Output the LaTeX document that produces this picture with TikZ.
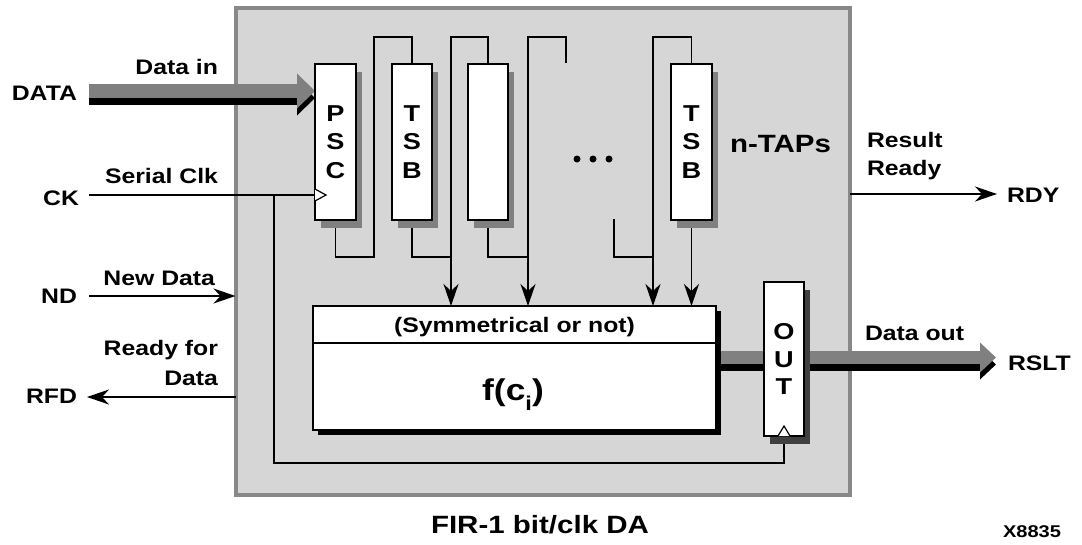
\documentclass[tikz,border=0pt]{standalone}
\usepackage{fontspec}
\setmainfont{Liberation Sans}[FakeStretch=1.18]
\usetikzlibrary{arrows.meta,shadows}
\definecolor{panelfill}{HTML}{D6D6D6}
\definecolor{panelline}{HTML}{888888}
\definecolor{busgray}{HTML}{808080}
\definecolor{shadowgray}{HTML}{808080}
\definecolor{darkshadow}{HTML}{404040}
\pgfdeclarelayer{back}
\pgfdeclarelayer{mid}
\pgfsetlayers{back,mid,main}
\tikzset{
  lbl/.style={font=\fontsize{21}{28}\selectfont\bfseries, inner sep=0pt, outer sep=0pt, text=black},
  reg/.style={draw=black, line width=2.4pt, fill=white, minimum width=41pt, minimum height=156pt,
    inner sep=0pt, outer sep=0pt, align=center, font=\fontsize{23}{28.5}\selectfont\bfseries,
    drop shadow={shadow xshift=6pt, shadow yshift=-8pt, fill=#1, opacity=1}},
  reg/.default=shadowgray,
  wire/.style={line width=1.8pt, black},
  sig/.style={line width=1.8pt, black, -{Stealth[length=22pt,width=15pt,inset=7pt]}},
  clkmark/.style={line width=1.2pt, black, fill=white, line join=miter},
  busin/.style={line width=14pt, busgray, -{Triangle[length=18pt,width=34pt]}},
  busout/.style={line width=13pt, busgray, -{Triangle[length=16pt,width=29pt]}},
}
\begin{document}
\begin{tikzpicture}[x=1pt,y=-1pt]
\useasboundingbox (0,0) rectangle (1082,544);
% panel
\begin{pgfonlayer}{back}
\node[draw=panelline, fill=panelfill, line width=4pt, minimum width=614.5pt, minimum height=487pt,
      inner sep=0pt, outer sep=0pt] (panel) at (542.75,251.5) {};
\end{pgfonlayer}

% registers
\node[reg] (psc) at (335.5,142) {P\\S\\C};
\node[reg, minimum width=40pt] (tsb1) at (412,142) {T\\S\\B};
\node[reg, minimum width=40pt] (reg3) at (488,142) {};
\node[reg] (tsbn) at (691.5,142) {T\\S\\B};

% function block
\node[draw=black, line width=2.4pt, fill=white, minimum width=403pt, minimum height=124pt,
      inner sep=0pt, outer sep=0pt,
      drop shadow={shadow xshift=5pt, shadow yshift=-5pt, fill=black, opacity=1}] (fbox) at (514.5,368) {};
\draw[line width=2.4pt] ([yshift=-37pt]fbox.north west) -- ([yshift=-37pt]fbox.north east);
\node[lbl, anchor=base] (sym) at (514.5,332) {(Symmetrical or not)};
\node[anchor=base, inner sep=0pt, font=\fontsize{30}{36}\selectfont\bfseries] (fci) at (513,400)
     {f(c\raisebox{-10pt}{\fontsize{20}{20}\selectfont i})};

% output register
\node[reg=darkshadow, minimum width=40pt, minimum height=154pt, font=\fontsize{23}{27.5}\selectfont\bfseries]
     (out) at (784,359) {O\\U\\T};

% coordinates
\coordinate (a1) at (374,257);
\coordinate (a2) at (374,37);
\coordinate (b1) at (451,37);
\coordinate (c1) at (528,37);
\coordinate (c3) at (566,63);
\coordinate (d0) at (614,219);
\coordinate (d1) at (653,37);
\coordinate (datain) at (89,91);
\coordinate (rsltend) at (996,357.5);
\coordinate (ckin) at (89,195);
\coordinate (ckj) at (274,195);
\coordinate (ndin) at (89,296);
\coordinate (rfdout) at (87,397);
\coordinate (rdyout) at (997,194);

\begin{pgfonlayer}{mid}
% buses
\draw[busin, black, transform canvas={yshift=-7pt}] (datain) -- (datain -| psc.west);
\draw[busin] (datain) -- (datain -| psc.west);
\draw[busout, black, transform canvas={yshift=-7pt}] (rsltend -| fbox.east) -- (rsltend);
\draw[busout] (rsltend -| fbox.east) -- (rsltend);
% tap chain
\draw[wire] (psc.south) |- (a1) -- (a2) -| (tsb1.north);
\draw[wire] (tsb1.south) |- (b1 |- a1);
\draw[sig] (reg3.north) |- (b1) -- (b1 |- fbox.north);
\draw[wire] (reg3.south) |- (c1 |- a1);
\draw[sig] (c3) |- (c1) -- (c1 |- fbox.north);
\draw[wire] (d0) |- (d1 |- a1);
\draw[sig] (tsbn.north) |- (d1) -- (d1 |- fbox.north);
\draw[sig] (tsbn.south) -- (tsbn.south |- fbox.north);
% clock
\draw[wire] (ckin) -- (ckin -| psc.west);
\draw[wire] (out.south) -- ++(0,27) -| (ckj);
% control signals
\draw[sig] (ndin) -- (ndin -| panel.west);
\draw[sig] (rfdout -| panel.west) -- (rfdout);
\draw[sig] (rdyout -| panel.east) -- (rdyout);
\end{pgfonlayer}

% clock marks
\draw[clkmark] (ckin -| psc.west) ++(0,-6) -- ++(11,6) -- ++(-11,6);
\draw[clkmark] (out.south) ++(-6,0) -- ++(6,-10) -- ++(6,10);

% dots
\fill[black] (577,159) circle (3.5pt) (593,159) circle (3.5pt) (609,159) circle (3.5pt);

% labels
\node[lbl, anchor=base east] (ldata) at (77,100) {DATA};
\node[lbl, anchor=base east] (ldatain) at (218,74) {Data in};
\node[lbl, anchor=base east] (lck) at (79,205) {CK};
\node[lbl, anchor=base east] (lserial) at (218,183) {Serial Clk};
\node[lbl, anchor=base east] (lnd) at (77,303) {ND};
\node[lbl, anchor=base east] (lnew) at (215,285) {New Data};
\node[lbl, anchor=base east] (lready1) at (218,355) {Ready for};
\node[lbl, anchor=base east] (lready2) at (218,385) {Data};
\node[lbl, anchor=base east] (lrfd) at (77,403) {RFD};
\node[lbl, anchor=base west, font=\fontsize{25}{30}\selectfont\bfseries] (ltaps) at (730,152) {n-TAPs};
\node[lbl, anchor=base west] (lres1) at (867,147) {Result};
\node[lbl, anchor=base west] (lres2) at (867,175) {Ready};
\node[lbl, anchor=base west] (lrdy) at (1007,202) {RDY};
\node[lbl, anchor=base west] (ldout) at (865,340) {Data out};
\node[lbl, anchor=base west] (lrslt) at (1008,370) {RSLT};
\node[lbl, anchor=base, font=\fontsize{25}{30}\selectfont\bfseries] (title) at (540,533) {FIR-1 bit/clk DA};
\node[lbl, anchor=base west, font=\fontsize{17}{20}\selectfont\bfseries] (fig) at (1003,537) {X8835};
\end{tikzpicture}
\end{document}
